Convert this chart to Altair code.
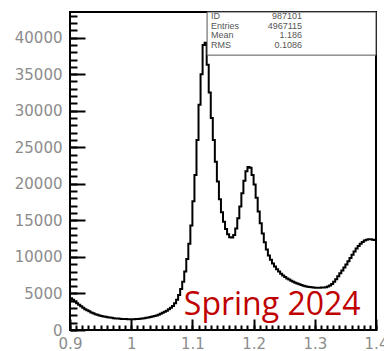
import altair as alt
import pandas as pd

# Histogram: 150 bins between 0.9 and 1.4
x_lo, x_hi = 0.9, 1.4
n_bins = 150
counts = [
    4350, 4150, 3900, 3650, 3450, 3250, 3050, 2850, 2700, 2550,
    2400, 2280, 2170, 2080, 2000, 1920, 1860, 1800, 1750, 1700,
    1660, 1620, 1590, 1560, 1540, 1520, 1500, 1490, 1480, 1480,
    1470, 1480, 1500, 1520, 1550, 1580, 1620, 1670, 1720, 1780,
    1850, 1920, 2000, 2100, 2220, 2350, 2500, 2650, 2850, 3050,
    3300, 3650, 4150, 4800, 5600, 6600, 8000, 9700, 11800, 14300,
    17600, 21200, 26000, 30800, 35000, 39000, 39300, 36300, 32500, 29000,
    26000, 23000, 20300, 17900, 16100, 14800, 13800, 13100, 12700, 12650,
    13000, 13900, 15300, 16900, 18700, 20400, 21700, 22300, 22200, 21200,
    19900, 18100, 16200, 14600, 13200, 12000, 11000, 10200, 9600, 9100,
    8700, 8300, 8000, 7700, 7450, 7250, 7050, 6900, 6750, 6600,
    6480, 6350, 6250, 6150, 6070, 6000, 5930, 5880, 5840, 5800,
    5780, 5780, 5780, 5800, 5820, 5860, 5950, 6100, 6300, 6600,
    6950, 7350, 7750, 8150, 8550, 8950, 9400, 9850, 10300, 10750,
    11150, 11500, 11800, 12050, 12250, 12350, 12400, 12400, 12350, 12300,
]
bin_width = (x_hi - x_lo) / n_bins
edges = [round(x_lo + i * bin_width, 6) for i in range(n_bins + 1)]
hist = pd.DataFrame({"mass": edges, "entries": counts + [counts[-1]]})

# Axis tick positions
y_max = 43500
major_y = list(range(0, 40001, 5000))
minor_y = list(range(0, 43001, 1000))
major_x = [0.9, 1.0, 1.1, 1.2, 1.3, 1.4]
minor_x = [round(0.9 + 0.01 * i, 2) for i in range(51)]

# Statistics box
stat_names = ["ID", "Entries", "Mean", "RMS"]
stat_values = ["987101", "4967115", "1.186", "0.1086"]
box_x0 = 1.124
box_y0 = 37600

plot_w, plot_h = 306, 318
row_px = [4, 13.5, 23, 32.5]  # row centres below the top of the frame
row_y = [y_max - p * y_max / plot_h for p in row_px]
stats = pd.DataFrame({"name": stat_names, "value": stat_values,
                      "x": [box_x0] * 4, "y": row_y})
box = pd.DataFrame({"x": [box_x0], "x2": [x_hi], "y": [box_y0], "y2": [y_max]})
tag = pd.DataFrame({"x": [1.086], "y": [2050], "text": ["Spring 2024"]})

xs = alt.Scale(domain=[x_lo, x_hi], nice=False, zero=False)
ys = alt.Scale(domain=[0, y_max], nice=False)

label_style = dict(labelFont="DejaVu Sans", labelFontSize=15, labelColor="#8c8c8c",
                   ticks=False, domain=False, grid=False, title=None,
                   labelOverlap=False, labelFlush=False)
tick_style = dict(labels=False, domain=False, grid=False, title=None,
                  tickColor="black", tickWidth=2)

curve = alt.Chart(hist).mark_line(interpolate="step-after", color="black",
                                  strokeWidth=2).encode(
    x=alt.X("mass:Q", scale=xs,
            axis=alt.Axis(values=major_x, format=".1~f", labelPadding=6, **label_style)),
    y=alt.Y("entries:Q", scale=ys,
            axis=alt.Axis(values=major_y, format="d", labelPadding=8, **label_style)),
)

# Inward-pointing ticks: axes on the opposite side, shifted across the frame
major_ticks = alt.Chart(hist).mark_line(opacity=0).encode(
    x=alt.X("mass:Q", scale=xs,
            axis=alt.Axis(orient="top", offset=-plot_h, values=major_x,
                          tickSize=11, **tick_style)),
    y=alt.Y("entries:Q", scale=ys,
            axis=alt.Axis(orient="right", offset=-plot_w, values=major_y,
                          tickSize=15, **tick_style)),
)
minor_ticks = alt.Chart(hist).mark_line(opacity=0).encode(
    x=alt.X("mass:Q", scale=xs,
            axis=alt.Axis(orient="top", offset=-plot_h, values=minor_x,
                          tickSize=5, **tick_style)),
    y=alt.Y("entries:Q", scale=ys,
            axis=alt.Axis(orient="right", offset=-plot_w, values=minor_y,
                          tickSize=7, **tick_style)),
)

stat_box = alt.Chart(box).mark_rect(fill="white", stroke="#555", strokeWidth=1).encode(
    x=alt.X("x:Q", scale=xs, axis=None), x2="x2:Q",
    y=alt.Y("y:Q", scale=ys, axis=None), y2="y2:Q",
)
stat_font = dict(font="Liberation Sans", fontSize=9, color="#555", baseline="middle")
stat_names_txt = alt.Chart(stats).mark_text(align="left", dx=4, **stat_font).encode(
    x=alt.X("x:Q", scale=xs, axis=None), y=alt.Y("y:Q", scale=ys, axis=None), text="name:N")
stat_vals_txt = alt.Chart(stats).mark_text(align="right", dx=95, **stat_font).encode(
    x=alt.X("x:Q", scale=xs, axis=None), y=alt.Y("y:Q", scale=ys, axis=None), text="value:N")

season = alt.Chart(tag).mark_text(align="left", baseline="alphabetic", font="Open Sans",
                                  fontSize=32, color="#c00000").encode(
    x=alt.X("x:Q", scale=xs, axis=None), y=alt.Y("y:Q", scale=ys, axis=None), text="text:N")

chart = alt.layer(
    curve, major_ticks, minor_ticks, stat_box, stat_names_txt, stat_vals_txt, season
).resolve_axis(x="independent", y="independent").properties(
    width=plot_w, height=plot_h,
    autosize=alt.AutoSizeParams(type="none"),
    padding={"left": 70, "top": 12, "right": 8, "bottom": 21},
).configure(
    background="white",
    view=alt.ViewConfig(stroke="black", strokeWidth=2),
)

chart.save("out.html", embed_options={"renderer": "svg", "actions": False})
